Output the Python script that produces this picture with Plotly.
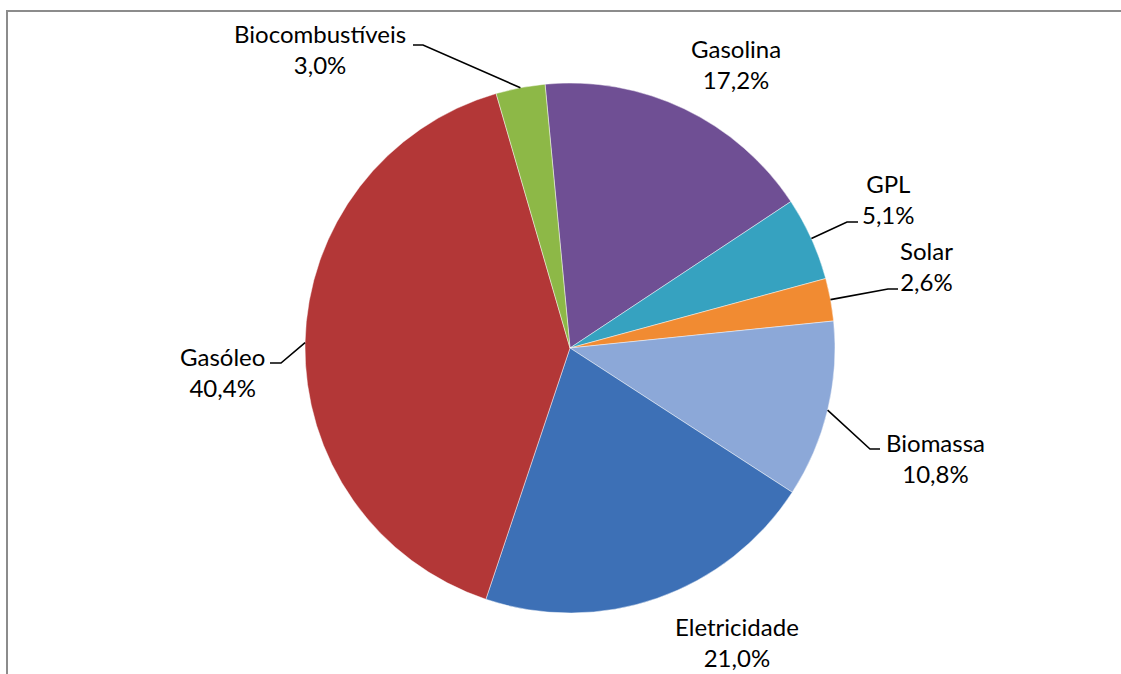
import math
import plotly.graph_objects as go

# Energy consumption shares (%)
categories = ["Gasolina", "GPL", "Solar", "Biomassa", "Eletricidade", "Gasóleo", "Biocombustíveis"]
shares = [17.2, 5.1, 2.6, 10.8, 21.0, 40.4, 3.0]

# Slice colours
colors = ["#6F4F94", "#36A2C0", "#F18B32", "#8CA8D8", "#3D70B6", "#B33737", "#8DB847"]

W, H = 1121, 674
CX, CY, R = 570, 348, 265          # pie centre and radius (px)
START_DEG = -5.4                   # first slice starts just left of 12 o'clock
FONT = "Lato"
FSIZE = 24

# Label block centres (px) and leader-line elbow / end points (px)
label_pos = {
    "Gasolina": (736, 64),
    "GPL": (888, 199),
    "Solar": (926, 266),
    "Biomassa": (935, 458),
    "Eletricidade": (737, 642),
    "Gasóleo": (222, 372),
    "Biocombustíveis": (320, 49),
}
leaders = {
    "Biocombustíveis": [(423, 45), (413, 45)],
    "GPL": [(847, 222), (858, 222)],
    "Solar": [(888, 289), (898, 289)],
    "Biomassa": [(870, 449), (880, 449)],
    "Gasóleo": [(281, 363), (270, 363)],
}

fig = go.Figure()

fig.add_trace(go.Pie(
    labels=categories,
    values=shares,
    sort=False,
    direction="clockwise",
    rotation=START_DEG,
    textinfo="none",
    hoverinfo="label+percent",
    marker=dict(colors=colors, line=dict(color="rgba(255,255,255,0.45)", width=1)),
    domain=dict(x=[(CX - R) / W, (CX + R) / W], y=[1 - (CY + R) / H, 1 - (CY - R) / H]),
    showlegend=False,
))

# hidden pixel-space axes for labels, leader lines and frame
fig.add_trace(go.Scatter(x=[0, W], y=[0, H], mode="markers",
                         marker=dict(opacity=0), hoverinfo="skip", showlegend=False))

total = sum(shares)
cum = 0.0
shapes = []
annotations = []
for name, val in zip(categories, shares):
    mid = START_DEG + (cum + val / 2) / total * 360.0
    cum += val
    a = math.radians(mid)
    sx, sy = CX + R * math.sin(a), CY - R * math.cos(a)
    lx, ly = label_pos[name]
    txt = f"{name}<br>{val:.1f}%".replace(".", ",")
    annotations.append(dict(x=lx, y=ly, xref="x", yref="y", text=txt, showarrow=False,
                            align="center", xanchor="center", yanchor="middle",
                            font=dict(family=FONT, size=FSIZE, color="#000000")))
    if name in leaders:
        pts = [(sx, sy)] + leaders[name]
        path = "M " + " L ".join(f"{px:.1f},{py:.1f}" for px, py in pts)
        shapes.append(dict(type="path", xref="x", yref="y", path=path,
                           line=dict(color="#000000", width=1.6)))

# chart frame (runs off the right and bottom edges)
shapes.append(dict(type="rect", xref="x", yref="y", x0=7, y0=11, x1=W + 20, y1=H + 20,
                   line=dict(color="#8C8C8C", width=2), fillcolor="rgba(0,0,0,0)", layer="below"))

fig.update_layout(
    width=W, height=H,
    margin=dict(l=0, r=0, t=0, b=0),
    paper_bgcolor="#FFFFFF",
    plot_bgcolor="rgba(0,0,0,0)",
    xaxis=dict(range=[0, W], visible=False, fixedrange=True),
    yaxis=dict(range=[H, 0], visible=False, fixedrange=True),
    shapes=shapes,
    annotations=annotations,
)

fig.write_html("out.html")
